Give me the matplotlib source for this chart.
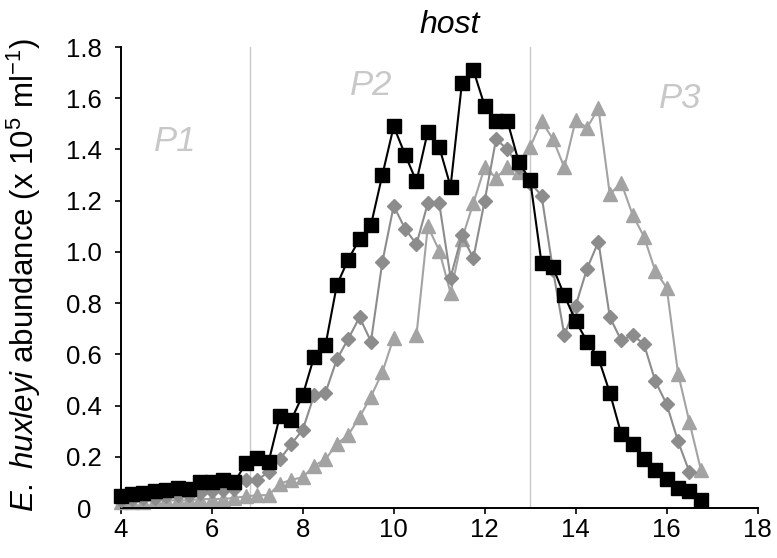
import numpy as np
import matplotlib
matplotlib.use("Agg")
import matplotlib.pyplot as plt

plt.rcParams['font.family'] = ['Liberation Sans', 'DejaVu Sans']
plt.rcParams['mathtext.fontset'] = 'custom'
plt.rcParams['mathtext.rm'] = 'Liberation Sans'
plt.rcParams['mathtext.it'] = 'Liberation Sans:italic'

nan = np.nan
# time (days), 6-hourly sampling
days = [4.0, 4.25, 4.5, 4.75, 5.0, 5.25, 5.5, 5.75, 6.0, 6.25, 6.5, 6.75,
        7.0, 7.25, 7.5, 7.75, 8.0, 8.25, 8.5, 8.75, 9.0, 9.25, 9.5, 9.75,
        10.0, 10.25, 10.5, 10.75, 11.0, 11.25, 11.5, 11.75, 12.0, 12.25, 12.5, 12.75,
        13.0, 13.25, 13.5, 13.75, 14.0, 14.25, 14.5, 14.75, 15.0, 15.25, 15.5, 15.75,
        16.0, 16.25, 16.5, 16.75]

host_squares = [0.047, 0.055, 0.058, 0.065, 0.07, 0.08, 0.075, 0.10, 0.10, 0.11, 0.10, 0.175,
                0.195, 0.18, 0.36, 0.345, 0.44, 0.59, 0.635, 0.87, 0.97, 1.05, 1.105, 1.30,
                1.49, 1.38, 1.275, 1.47, 1.41, 1.255, 1.66, 1.71, 1.57, 1.51, 1.51, 1.35,
                1.28, 0.955, 0.94, 0.83, 0.73, 0.65, 0.585, 0.45, 0.29, 0.25, 0.19, 0.15,
                0.115, 0.08, 0.065, 0.03]

host_diamonds = [0.03, 0.035, 0.04, 0.04, 0.045, 0.05, 0.05, 0.06, 0.065, 0.07, 0.075, 0.11,
                 0.11, 0.14, 0.19, 0.25, 0.305, 0.44, 0.45, 0.58, 0.66, 0.745, 0.65, 0.96,
                 1.18, 1.09, 1.03, 1.19, 1.19, 0.90, 1.065, 0.975, 1.20, 1.44, 1.40, 1.33,
                 1.27, 1.22, 0.93, 0.675, 0.79, 0.935, 1.04, 0.745, 0.655, 0.675, 0.64, 0.495,
                 0.405, 0.26, 0.14, nan]

host_triangles = [0.025, 0.025, 0.025, 0.03, 0.03, 0.03, 0.03, 0.035, 0.035, 0.035, 0.04, 0.045,
                  0.05, 0.05, 0.095, 0.11, 0.12, 0.165, 0.19, 0.25, 0.285, 0.355, 0.435, 0.53,
                  0.665, nan, 0.675, 1.10, 1.005, 0.84, 1.05, 1.19, 1.33, 1.29, 1.33, 1.31,
                  1.41, 1.51, 1.44, 1.33, 1.515, 1.485, 1.56, 1.225, 1.27, 1.145, 1.06, 0.925,
                  0.86, 0.525, 0.335, 0.15]

phase_bounds = [6.85, 13.0]
phase_labels = ['P1', 'P2', 'P3']
phase_label_pos = [(5.2, 1.43), (9.5, 1.65), (16.3, 1.6)]

xticks = [4, 6, 8, 10, 12, 14, 16, 18]
yticks = [0, 0.2, 0.4, 0.6, 0.8, 1.0, 1.2, 1.4, 1.6, 1.8]
yticklabels = ['0', '0.2', '0.4', '0.6', '0.8', '1.0', '1.2', '1.4', '1.6', '1.8']

W, H = 777, 558
fig = plt.figure(figsize=(W / 100, H / 100), dpi=100)
ax = fig.add_axes([120.7 / W, 1 - 508 / H, (757.7 - 120.7) / W, (508 - 47) / H])

for xb in phase_bounds:
    ax.plot([xb, xb], [0, 1.8], color='#c8c8c8', lw=1.0, zorder=1)

ax.plot(days, host_triangles, color='#a3a3a3', lw=1.5, marker='^', ms=10,
        mec='#a3a3a3', mfc='#a3a3a3', zorder=2, clip_on=False)
ax.plot(days, host_diamonds, color='#8c8c8c', lw=1.5, marker='D', ms=7,
        mec='#8c8c8c', mfc='#8c8c8c', zorder=3, clip_on=False)
ax.plot(days, host_squares, color='black', lw=1.5, marker='s', ms=9.5,
        mec='black', mfc='black', zorder=4, clip_on=False)

for lab, (px, py) in zip(phase_labels, phase_label_pos):
    ax.text(px, py, lab, color='#c8c8c8', fontsize=25, style='italic',
            ha='center', va='center')

ax.set_xlim(4, 18)
ax.set_ylim(0, 1.8)
ax.set_xticks(xticks)
ax.set_yticks(yticks)
ax.set_yticklabels(yticklabels)
for s in ['top', 'right']:
    ax.spines[s].set_visible(False)
for s in ['left', 'bottom']:
    ax.spines[s].set_linewidth(1.4)
ax.tick_params(axis='both', direction='out', length=4.5, width=1.2, labelsize=18.5)
ax.tick_params(axis='y', pad=22)
for t in ax.get_yticklabels():
    t.set_ha('center')
ax.tick_params(axis='x', pad=3)

fig.text(450 / W, 1 - 25 / H, 'host', fontsize=23, style='italic', ha='center', va='center')
fig.text(24 / W, 1 - 275 / H,
         r'$\mathit{E.\ huxleyi}$ abundance (x 10$^{5}$ ml$^{-1}$)',
         fontsize=22.5, rotation=90, ha='center', va='center')

fig.savefig('out.png', dpi=100)
